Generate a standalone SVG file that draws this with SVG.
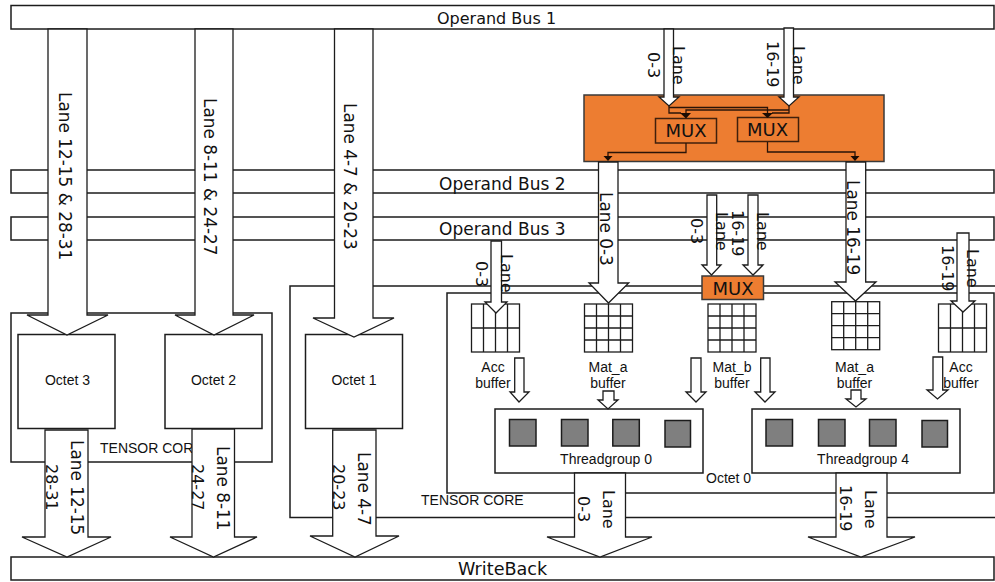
<svg xmlns="http://www.w3.org/2000/svg" width="995" height="582" viewBox="0 0 995 582">
<style>
.b{fill:#fff;stroke:#1c1c1c;stroke-width:1.5}
.n{fill:none;stroke:#1c1c1c;stroke-width:1.5}
.o{fill:#ed7d31;stroke:#3a3a3a;stroke-width:1.5}
.m{fill:#ed7d31;stroke:#40200c;stroke-width:1.5}
.s{fill:#7f7f7f;stroke:#1c1c1c;stroke-width:1.5}
.g{fill:#fff;stroke:#1c1c1c;stroke-width:1.3}
.a{fill:#fff;stroke:#1c1c1c;stroke-width:1.3;stroke-linejoin:miter}
.w{fill:none;stroke:#2a1408;stroke-width:1.3}
.h{fill:#1a0c04}
text{fill:#111;font-family:"DejaVu Sans",sans-serif}
.t1{font-size:17px}
.t2{font-size:16px}
.l{font-size:16.900px}
.t3{font-family:"Liberation Sans",Arial,sans-serif;font-size:14px;text-anchor:middle}
.t4{font-family:"Liberation Sans",Arial,sans-serif;font-size:14px}
.mx{font-size:18px;text-anchor:middle}
</style>
<defs>
<g id="g44"><rect class="g" width="48" height="48"/><path class="n" style="stroke-width:1.3" d="M12 0V48M24 0V48M36 0V48M0 12H48M0 24H48M0 36H48"/></g>
<g id="g42"><rect class="g" width="48" height="48"/><path class="n" style="stroke-width:1.3" d="M12 0V48M24 0V48M36 0V48M0 24H48"/></g>
</defs>

<g id="bus1"><rect class="b" x="11" y="5.500" width="983" height="23.500"/><text class="t1" x="437" y="24" style="font-size:16px">Operand Bus 1</text></g>
<g id="bus2"><rect class="b" x="11" y="170" width="983" height="23"/><text class="t1" x="439" y="190">Operand Bus 2</text></g>
<g id="bus3"><rect class="b" x="11" y="217" width="983" height="23"/><text class="t1" x="439" y="235">Operand Bus 3</text></g>
<g id="writeback"><rect class="b" x="11" y="557" width="983" height="23"/><text class="t1" x="458" y="575" style="font-size:17.600px">WriteBack</text></g>

<g id="tensor-core-left"><rect class="n" x="11" y="313" width="261" height="149"/><text class="t4" x="100" y="453">TENSOR CORE</text></g>
<g id="tensor-core-right"><path class="n" d="M996 286H290V517.500H996"/><text class="t4" x="421" y="505">TENSOR CORE</text></g>
<g id="octet0"><rect class="n" x="447" y="293" width="547" height="200"/><text class="t4" x="706" y="483">Octet 0</text></g>

<g id="octet3"><rect class="b" x="18" y="334.500" width="97" height="94"/><text class="t3" x="67.500" y="385">Octet 3</text></g>
<g id="octet2"><rect class="b" x="165" y="334.500" width="97" height="94"/><text class="t3" x="213.500" y="385">Octet 2</text></g>
<g id="octet1"><rect class="b" x="305.500" y="334.500" width="97" height="94"/><text class="t3" x="354" y="385">Octet 1</text></g>

<g id="acc-grid-left"><use href="#g42" x="471.500" y="304"/></g>
<g id="mat-a-grid-left"><use href="#g44" x="584.500" y="304"/></g>
<g id="mat-b-grid"><use href="#g44" x="708" y="304"/></g>
<g id="mat-a-grid-right"><use href="#g44" x="831.700" y="301.700"/></g>
<g id="acc-grid-right"><use href="#g42" x="938.500" y="304"/></g>

<g id="threadgroup0"><rect class="b" x="495" y="409" width="208" height="64"/>
<rect class="s" x="509.500" y="419.500" width="26.500" height="26.500"/><rect class="s" x="561.500" y="419.500" width="26.500" height="26.500"/><rect class="s" x="612.800" y="419.500" width="26.500" height="26.500"/><rect class="s" x="665" y="420.500" width="25.500" height="26.500"/>
<text class="t3" x="606" y="464">Threadgroup 0</text></g>
<g id="threadgroup4"><rect class="b" x="752" y="409" width="208" height="64"/>
<rect class="s" x="766" y="419.500" width="26.500" height="26.500"/><rect class="s" x="818.500" y="419.500" width="26.500" height="26.500"/><rect class="s" x="869.500" y="419.500" width="26.500" height="26.500"/><rect class="s" x="922" y="420.500" width="25.500" height="26.500"/>
<text class="t3" x="863" y="464">Threadgroup 4</text></g>

<g id="mux-block"><rect class="o" x="584" y="95" width="300" height="66.500"/></g>
<g id="mux-left"><rect class="m" x="655.500" y="118.500" width="61" height="24.500"/><text class="mx" x="686" y="137">MUX</text></g>
<g id="mux-right"><rect class="m" x="737.500" y="117.500" width="61" height="24"/><text class="mx" x="767.500" y="136">MUX</text></g>
<g id="mux-bottom"><rect class="o" x="702" y="276" width="61.500" height="23.500"/><text class="mx" x="733" y="295">MUX</text></g>

<g id="connectors">
<path class="a" d="M48 29H87V315H108L67 335L27 315H48Z"/>
<path class="a" d="M195 29H233V315H254L214 335L175 315H195Z"/>
<path class="a" d="M334.500 29H373V318H394L354 337L313 318H334.500Z"/>
<path class="a" d="M45 430H88V537H111L67 557L22 537H45Z"/>
<path class="a" d="M192 429H234.500V537H257L213.500 557L170 537H192Z"/>
<path class="a" d="M332.700 430H376V536H399L355 557L310 536H332.700Z"/>
<path class="a" d="M574.500 473H625.500V537H652L600 557L547 537H574.500Z"/>
<path class="a" d="M836 473H887V537H915L861 557L808 537H836Z"/>
<path class="a" d="M664 29H673.500V97H679L669 106L659 97H664Z"/>
<path class="a" d="M784 28H793.500V97H799L789 106L779 97H784Z"/>
<path class="a" d="M598.500 162H618V283H628.700L608.500 303L589 283H598.500Z"/>
<path class="a" d="M846 162H865.700V282H876L855.500 301L835 282H846Z"/>
<path class="a" d="M707 195H716.700V265H721L711.500 275L702 265H707Z"/>
<path class="a" d="M748 195H758V265H763L753 275L743 265H748Z"/>
<path class="a" d="M491 241H501.500V302H507L496 313L485 302H491Z"/>
<path class="a" d="M957 233H969V301H975L963 312L951 301H957Z"/>
<path class="a" d="M514.700 358H524V392H529L519 402L510 392H514.700Z"/>
<path class="a" d="M603 391H614V400H618L608 409L598 400H603Z"/>
<path class="a" d="M691 358H701V392H706L696 402L686 392H691Z"/>
<path class="a" d="M760.700 358H770V392H775L765 402L755 392H760.700Z"/>
<path class="a" d="M851 390H861V399H866L856 407L846 399H851Z"/>
<path class="a" d="M933 357H942.700V390H948L937.500 399L927 390H933Z"/>
<path class="w" d="M669 106V113H681M669 107.500H767.500V113M789 106V113H772M789 110H686V113M686 143V152.500H608V156M767.500 142V152H855V156"/>
<path class="h" d="M680 113H691L686 118.500ZM762 113H773L767.500 118ZM603.500 156H612.500L608 161ZM850.500 156H859.500L855 161Z"/>
<g class="t2">
<text class="l" transform="translate(58.500,92) rotate(90)">Lane 12-15 &amp; 28-31</text>
<text class="l" transform="translate(204,98) rotate(90)">Lane 8-11 &amp; 24-27</text>
<text class="l" transform="translate(344,103) rotate(90)">Lane 4-7 &amp; 20-23</text>
<text transform="translate(673,46) rotate(90)">Lane</text>
<text transform="translate(648,52) rotate(90)">0-3</text>
<text transform="translate(793,46) rotate(90)">Lane</text>
<text transform="translate(767,41) rotate(90)">16-19</text>
<text class="l" transform="translate(600,192) rotate(90)">Lane 0-3</text>
<text class="l" transform="translate(847,180) rotate(90)">Lane 16-19</text>
<text transform="translate(716,212) rotate(90)">Lane</text>
<text transform="translate(691,218) rotate(90)">0-3</text>
<text transform="translate(757,212) rotate(90)">Lane</text>
<text transform="translate(732,210) rotate(90)">16-19</text>
<text transform="translate(501,254) rotate(90)">Lane</text>
<text transform="translate(476,261) rotate(90)">0-3</text>
<text transform="translate(967,249) rotate(90)">Lane</text>
<text transform="translate(942,245) rotate(90)">16-19</text>
<text class="l" transform="translate(71,440) rotate(90)">Lane 12-15</text>
<text transform="translate(45.500,464) rotate(90)">28-31</text>
<text class="l" transform="translate(217,446) rotate(90)">Lane 8-11</text>
<text transform="translate(192,464) rotate(90)">24-27</text>
<text class="l" transform="translate(357.500,452) rotate(90)">Lane 4-7</text>
<text transform="translate(333,464) rotate(90)">20-23</text>
<text transform="translate(603,490) rotate(90)">Lane</text>
<text transform="translate(578,496) rotate(90)">0-3</text>
<text transform="translate(865,490) rotate(90)">Lane</text>
<text transform="translate(840,485) rotate(90)">16-19</text>
</g>
</g>

<g id="label-acc-left"><text class="t3" x="493" y="372">Acc</text><text class="t3" x="493" y="388">buffer</text></g>
<g id="label-mat-a-left"><text class="t3" x="608" y="372">Mat_a</text><text class="t3" x="608" y="388">buffer</text></g>
<g id="label-mat-b"><text class="t3" x="732" y="372">Mat_b</text><text class="t3" x="732" y="388">buffer</text></g>
<g id="label-mat-a-right"><text class="t3" x="854.500" y="372">Mat_a</text><text class="t3" x="854.500" y="388">buffer</text></g>
<g id="label-acc-right"><text class="t3" x="961" y="372">Acc</text><text class="t3" x="961" y="388">buffer</text></g>
</svg>
